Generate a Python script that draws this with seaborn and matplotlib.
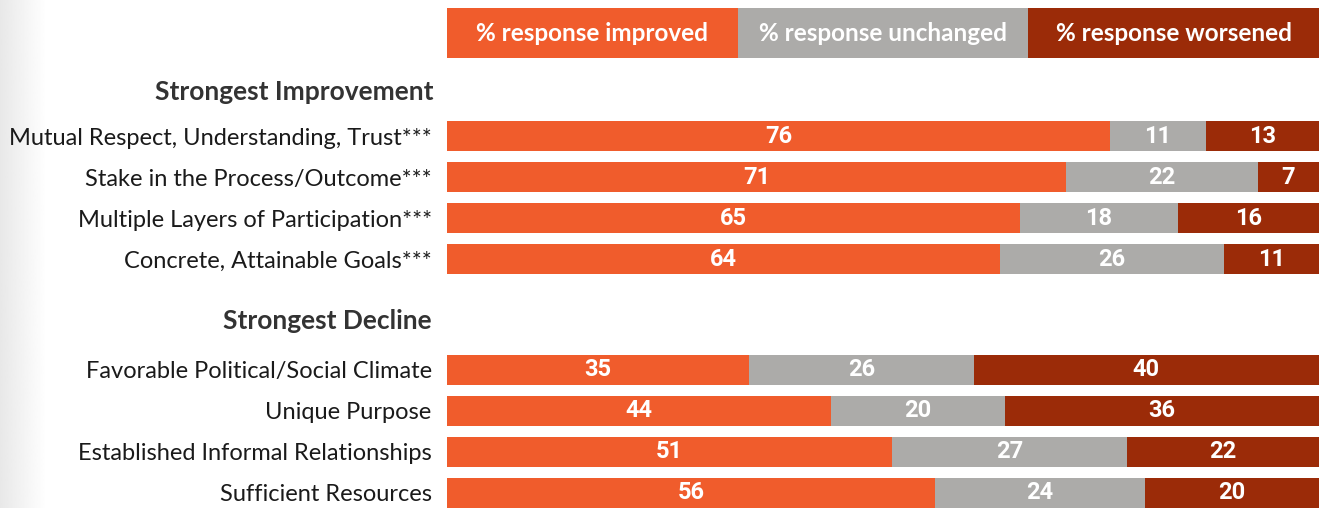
import numpy as np
import pandas as pd
import matplotlib
matplotlib.use("Agg")
import matplotlib.pyplot as plt
import seaborn as sns

# Data
labels_top = [
    "Mutual Respect, Understanding, Trust***",
    "Stake in the Process/Outcome***",
    "Multiple Layers of Participation***",
    "Concrete, Attainable Goals***",
]
labels_bottom = [
    "Favorable Political/Social Climate",
    "Unique Purpose",
    "Established Informal Relationships",
    "Sufficient Resources",
]
improved = [76, 71, 65, 64, 35, 44, 51, 56]
unchanged = [11, 22, 18, 26, 26, 20, 27, 24]
worsened = [13, 7, 16, 11, 40, 36, 22, 20]
series_names = ["% response improved", "% response unchanged", "% response worsened"]
headers = ["Strongest Improvement", "Strongest Decline"]

colors = ["#F05C2C", "#ACABA9", "#9B2B08"]
text_dark = "#1a1a1a"

sns.set_theme(style="white")
plt.rcParams["font.family"] = ["Lato", "DejaVu Sans"]

df = pd.DataFrame(
    {
        "label": labels_top + labels_bottom,
        "improved": improved,
        "unchanged": unchanged,
        "worsened": worsened,
    }
)
total = df[["improved", "unchanged", "worsened"]].sum(axis=1)
for c in ["improved", "unchanged", "worsened"]:
    df[c + "_w"] = df[c] / total * 100

# row positions: two groups with a gap between them
group_gap = 2.7
df["pos"] = [i if i < 4 else i + group_gap - 1 for i in range(len(df))]

fig = plt.figure(figsize=(13.19, 5.08), dpi=100)

# faint grey gradient on the left edge
gax = fig.add_axes([0, 0, 0.035, 1])
grad = np.linspace(0.91, 1.0, 64).reshape(1, -1)
gax.imshow(grad, cmap="gray", vmin=0, vmax=1, aspect="auto", extent=[0, 1, 0, 1])
gax.set_axis_off()

ax = fig.add_axes([447 / 1319, 0, 1 - 447 / 1319, 1])
ax.patch.set_alpha(0)

# stacked bars: draw cumulative layers back to front
cum_all = df["improved_w"] + df["unchanged_w"] + df["worsened_w"]
cum_two = df["improved_w"] + df["unchanged_w"]
for vals, col in [(cum_all, colors[2]), (cum_two, colors[1]), (df["improved_w"], colors[0])]:
    sns.barplot(
        x=vals,
        y=df["pos"],
        orient="y",
        native_scale=True,
        width=0.73,
        color=col,
        saturation=1,
        errorbar=None,
        linewidth=0,
        ax=ax,
    )

# value labels in the middle of each segment
for _, r in df.iterrows():
    lefts = [0, r["improved_w"], r["improved_w"] + r["unchanged_w"]]
    widths = [r["improved_w"], r["unchanged_w"], r["worsened_w"]]
    vals = [r["improved"], r["unchanged"], r["worsened"]]
    for lft, w, v in zip(lefts, widths, vals):
        ax.text(
            lft + w / 2,
            r["pos"],
            f"{v}",
            ha="center",
            va="center",
            color="white",
            fontsize=17,
            fontweight="bold",
            family=["Roboto", "DejaVu Sans"],
        )

# legend boxes across the top
legend_y = -2.51
n = len(series_names)
for i, (name, col) in enumerate(zip(series_names, colors)):
    ax.barh(legend_y, 100 / n, left=i * 100 / n, height=1.22, color=col, linewidth=0)
    ax.text(
        i * 100 / n + 100 / n / 2,
        legend_y,
        name,
        ha="center",
        va="center",
        color="white",
        fontsize=17.5,
        fontweight="bold",
    )

# group headers
ax.annotate(headers[0], xy=(0, df["pos"].iloc[0] - 1.07), xycoords=("axes fraction", "data"),
            xytext=(-10, 0), textcoords="offset points", ha="right", va="center",
            fontsize=19, fontweight="bold", color="#333333")
ax.annotate(headers[1], xy=(0, df["pos"].iloc[4] - 1.19), xycoords=("axes fraction", "data"),
            xytext=(-11, 0), textcoords="offset points", ha="right", va="center",
            fontsize=19, fontweight="bold", color="#333333")

ax.set_yticks(df["pos"], df["label"])
ax.tick_params(axis="y", length=0, pad=11, labelsize=17, labelcolor=text_dark)
ax.set_xticks([])
ax.set_xlim(0, 100)
ax.set_ylim(9.07, -3.32)
ax.set_xlabel("")
ax.set_ylabel("")
sns.despine(ax=ax, left=True, bottom=True)

fig.savefig("out.png", dpi=100)
